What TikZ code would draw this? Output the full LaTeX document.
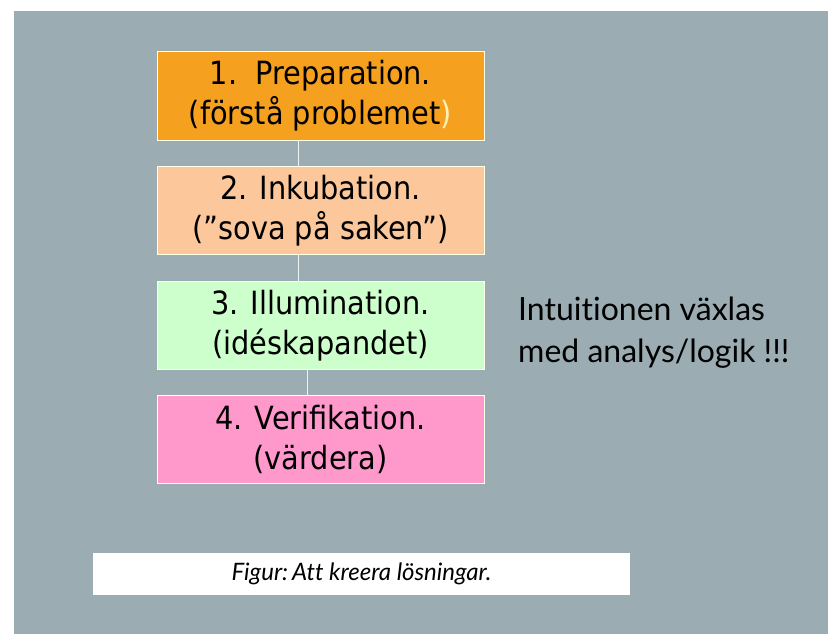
\documentclass[tikz,border=0pt]{standalone}
\usepackage{fontspec}
\setmainfont{DejaVu Sans Condensed}
\newfontfamily\notefont[Ligatures=NoCommon]{Lato}
\usetikzlibrary{calc}
\definecolor{slate}{HTML}{9BADB3}
\definecolor{prep}{HTML}{F5A01E}
\definecolor{inkub}{HTML}{FCC89B}
\definecolor{illum}{HTML}{CCFFCC}
\definecolor{verif}{HTML}{FF99CC}
\definecolor{paleparen}{HTML}{FFF2B0}
\tikzset{
  phase/.style={draw=white!90!yellow, line width=1pt, minimum width=327pt,
    minimum height=88pt, inner sep=0pt, align=center,
    font=\fontsize{32}{40}\selectfont},
  link/.style={draw=white!85!slate, line width=1pt},
}
\begin{document}
\begin{tikzpicture}[x=1pt,y=-1pt]
  % page and slide background
  \useasboundingbox (0,0) rectangle (830,634);
  \fill[white] (0,0) rectangle (830,634);
  \fill[slate] (14,11) rectangle (828,634);

  % the four phases
  \node[phase, fill=prep]  (p1) at (320.5,96)   {1.\ \ Preparation.\\(förstå problemet\textcolor{paleparen}{)}};
  \node[phase, fill=inkub] (p2) at (320.5,210.5) {2. Inkubation.\\(”sova på saken”)};
  \node[phase, fill=illum] (p3) at (320.5,325.5) {3. Illumination.\\(idéskapandet)};
  \node[phase, fill=verif] (p4) at (320.5,439)   {4. Verifikation.\\(värdera)};

  % thin links between the phases
  \coordinate (ka) at (298,0);
  \coordinate (kb) at (307,0);
  \draw[link] (p1.south -| ka) -- (p2.north -| ka);
  \draw[link] (p2.south -| ka) -- (p3.north -| ka);
  \draw[link] (p3.south -| kb) -- (p4.north -| kb);

  % side remark
  \node[anchor=west, align=left, inner sep=0pt,
        font=\notefont\fontsize{32}{42}\selectfont] (note) at (518,333)
        {Intuitionen växlas\\med analys/logik !!!};

  % caption strip
  \node[fill=white, minimum width=537pt, minimum height=42pt, inner sep=0pt,
        font=\notefont\itshape\fontsize{24}{26}\selectfont] (cap) at (361.5,574)
        {Figur:\,Att kreera lösningar.};
\end{tikzpicture}
\end{document}
